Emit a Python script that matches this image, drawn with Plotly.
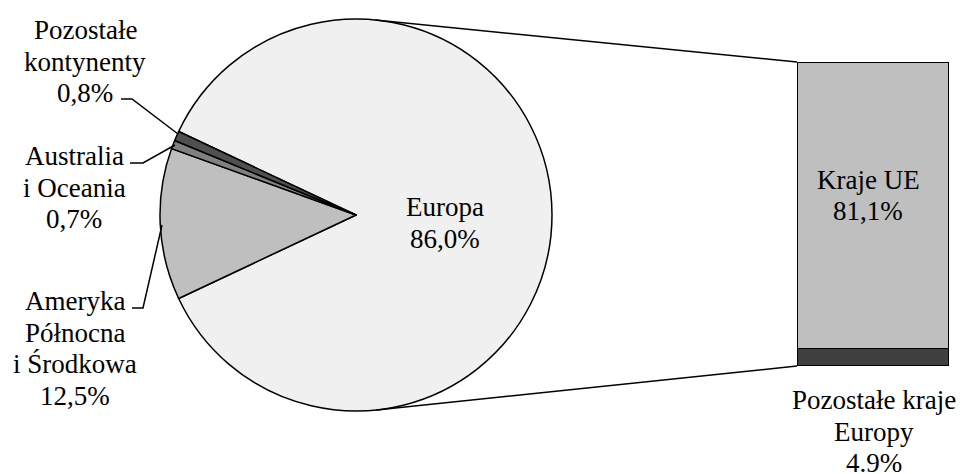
import math
import plotly.graph_objects as go

W, H = 962, 474

# ---- data ----
continents = ["Europa", "Ameryka Północna i Środkowa", "Australia i Oceania", "Pozostałe kontynenty"]
continent_share = [86.0, 12.5, 0.7, 0.8]
continent_colors = ["#F0F0F0", "#BFBFBF", "#808080", "#505050"]
continent_label_lines = [["Europa"], ["Ameryka", "Północna", "i Środkowa"],
                         ["Australia", "i Oceania"], ["Pozostałe", "kontynenty"]]
continent_decimal = [",", ",", ",", ","]

europe_parts = ["Kraje UE", "Pozostałe kraje Europy"]
europe_share = [81.1, 4.9]
europe_colors = ["#BFBFBF", "#404040"]
europe_label_lines = [["Kraje UE"], ["Pozostałe kraje", "Europy"]]
europe_decimal = [",", "."]

FONT = dict(family="Liberation Serif", size=27, color="#000000")
LINE_H = 31.5


def px(x):
    return x / W


def py(y):
    return 1 - y / H


def fmt(v, sep):
    return f"{v:.1f}".replace(".", sep) + "%"


# ---- geometry (layout) ----
cx, cy, r = 356, 215, 196
bar_x0, bar_x1, bar_top, bar_bot = 797, 949, 62, 366

fig = go.Figure()

total = sum(continent_share)
rotation = 90 - continent_share[0] / total * 180
fig.add_trace(go.Pie(
    labels=continents, values=continent_share, sort=False, direction="clockwise",
    rotation=rotation, textinfo="none", hoverinfo="label+percent",
    marker=dict(colors=continent_colors, line=dict(color="#000000", width=1.5)),
    domain=dict(x=[px(cx - r), px(cx + r)], y=[py(cy + r), py(cy - r)]),
    showlegend=False,
))

# stack bottom-up: remaining Europe at the bottom, EU on top
for name, val, col in reversed(list(zip(europe_parts, europe_share, europe_colors))):
    fig.add_trace(go.Bar(
        x=[0], y=[val], name=name, width=1, marker=dict(color=col, line=dict(color="#000000", width=1.5)),
        showlegend=False, hoverinfo="name+y",
    ))

fig.update_layout(
    width=W, height=H, margin=dict(l=0, r=0, t=0, b=0),
    paper_bgcolor="white", plot_bgcolor="rgba(0,0,0,0)", barmode="stack",
    font=FONT,
    xaxis=dict(domain=[px(bar_x0), px(bar_x1)], range=[-0.5, 0.5], visible=False, fixedrange=True),
    yaxis=dict(domain=[py(bar_bot), py(bar_top)], range=[0, sum(europe_share)], visible=False, fixedrange=True),
)


# connector lines: tangents from bar corners to the circle
def tangent(P, upper):
    dx, dy = P[0] - cx, P[1] - cy
    d = math.hypot(dx, dy)
    base = math.atan2(dy, dx)
    off = math.acos(r / d)
    ang = base - off if upper else base + off
    return cx + r * math.cos(ang), cy + r * math.sin(ang)


shapes = []
for P, up in [((bar_x0, bar_top), True), ((bar_x0, bar_bot), False)]:
    T = tangent(P, up)
    shapes.append(dict(type="line", xref="paper", yref="paper",
                       x0=px(T[0]), y0=py(T[1]), x1=px(P[0]), y1=py(P[1]),
                       line=dict(color="#000000", width=1.5)))

# leader lines for small slices
leaders = [
    [(121, 99), (132, 99), (178, 134)],
    [(130, 163), (143, 163), (175, 145)],
    [(132, 308), (143, 308), (162, 225)],
]
for pts in leaders:
    path = "M " + " L ".join(f"{px(x):.5f},{py(y):.5f}" for x, y in pts)
    shapes.append(dict(type="path", xref="paper", yref="paper", path=path,
                       line=dict(color="#000000", width=1.5)))
fig.update_layout(shapes=shapes)

# labels (center x, first baseline)
continent_label_pos = [(445, 214), (75, 308), (74, 163), (85, 37)]
europe_label_pos = [(868, 187), (874, 407)]

annotations = []


def add_label(lines, pos):
    x, b = pos
    for i, t in enumerate(lines):
        annotations.append(dict(x=px(x), y=py(b + i * LINE_H - 7), xref="paper", yref="paper",
                                text=t, showarrow=False, xanchor="center", yanchor="middle", font=FONT))


for lines, val, sep, pos in zip(continent_label_lines, continent_share, continent_decimal, continent_label_pos):
    add_label(lines + [fmt(val, sep)], pos)
for lines, val, sep, pos in zip(europe_label_lines, europe_share, europe_decimal, europe_label_pos):
    add_label(lines + [fmt(val, sep)], pos)

fig.update_layout(annotations=annotations)
fig.write_html("out.html", config={"displayModeBar": False},
               post_script="document.body.style.margin='0';")
